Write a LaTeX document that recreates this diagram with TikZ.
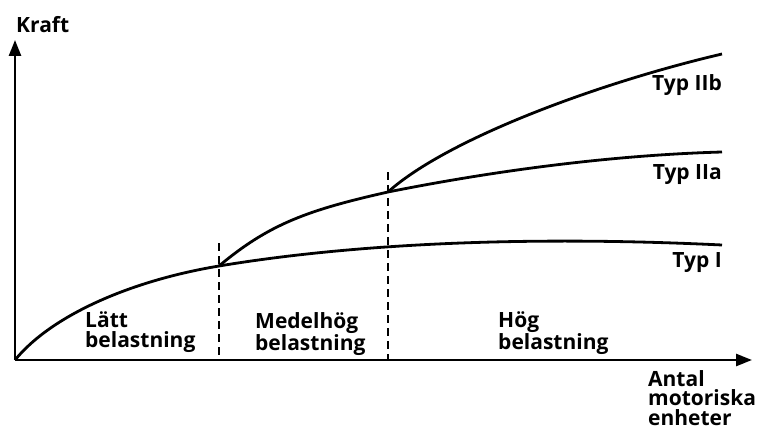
\documentclass[tikz,border=0pt]{standalone}
\usepackage{fontspec}
\setmainfont{Open Sans}
\usetikzlibrary{arrows.meta}

\begin{document}
\begin{tikzpicture}[x=1pt,y=1pt,
  axis/.style={line width=2.5pt,-{Triangle[length=16pt,width=12pt]}},
  curve/.style={line width=2.8pt},
  divider/.style={line width=2.4pt,dash pattern=on 8pt off 5pt},
  lbl/.style={font=\fontsize{21}{19.5}\selectfont\bfseries,inner sep=0pt,align=left}]
\useasboundingbox (-15,-77) rectangle (744,360);
% axes
\coordinate (o) at (0,0);
\coordinate (ytip) at (0,320);
\coordinate (xtip) at (737,0);
\draw[axis] (o) -- (ytip);
\draw[axis] (o) -- (xtip);
% branch points and curve ends
\coordinate (a) at (204,94);
\coordinate (b) at (373,168);
\coordinate (endI) at (707,115);
\coordinate (endIIa) at (707,208);
\coordinate (endIIb) at (707,306);
% dividers
\coordinate (atop) at (204,117);
\coordinate (abot) at (204,0);
\coordinate (btop) at (373,188);
\coordinate (bbot) at (373,0);
\draw[divider] (atop) -- (abot);
\draw[divider] (btop) -- (bbot);
% curves
\draw[curve] (o) .. controls (36,44) and (114,79) .. (a)
  .. controls (330,115) and (500,125) .. (endI);
\draw[curve] (a) .. controls (254,136) and (293,150) .. (b)
  .. controls (483,190) and (600,205) .. (endIIa);
\draw[curve] (b) .. controls (433,222) and (587,278) .. (endIIb);
% labels
\node[lbl,anchor=base west] (kraft) at (1,327) {Kraft};
\node[lbl,anchor=north west] (latt) at (70,48) {Lätt\\belastning};
\node[lbl,anchor=north west] (medel) at (240,48) {Medelhög\\belastning};
\node[lbl,anchor=north west] (hog) at (483,48) {Hög\\belastning};
\node[lbl,anchor=north west] (antal) at (633,-10) {Antal\\motoriska\\enheter};
\node[lbl,anchor=east] (typIIb) at (707,275) {Typ IIb};
\node[lbl,anchor=east] (typIIa) at (707,185) {Typ IIa};
\node[lbl,anchor=east] (typI) at (707,97) {Typ I};
\end{tikzpicture}
\end{document}
